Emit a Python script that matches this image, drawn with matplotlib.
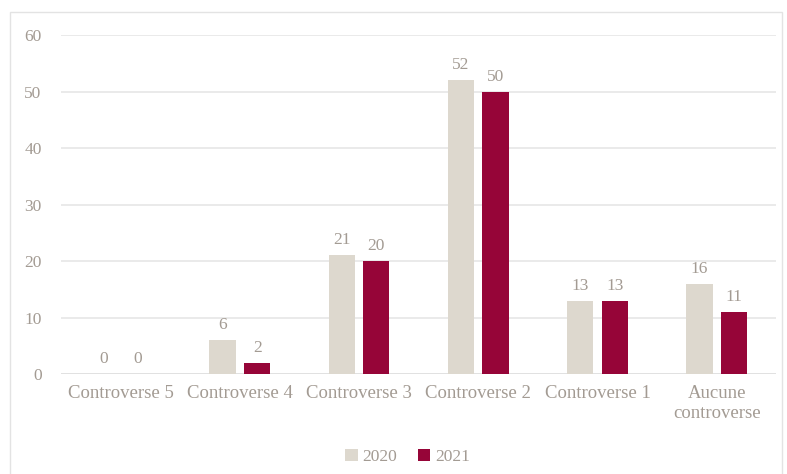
import matplotlib.pyplot as plt
import numpy as np
from matplotlib.patches import Rectangle

categories = ['Controverse 5', 'Controverse 4', 'Controverse 3', 'Controverse 2',
              'Controverse 1', 'Aucune\ncontroverse']
v2020 = [0, 6, 21, 52, 13, 16]
v2021 = [0, 2, 20, 50, 13, 11]

c2020 = '#DDD8CE'
c2021 = '#960538'
txt = '#A39B93'

plt.rcParams['font.family'] = ['Liberation Serif', 'DejaVu Serif']

fig = plt.figure(figsize=(7.87, 4.74), dpi=100)
ax = fig.add_axes([0.0775, 0.211, 0.909, 0.715])

x = np.arange(len(categories))
w = 0.22
off = 0.145
b1 = ax.bar(x - off, v2020, w, color=c2020, label='2020', zorder=3)
b2 = ax.bar(x + off, v2021, w, color=c2021, label='2021', zorder=3)

for bars in (b1, b2):
    for r in bars:
        h = r.get_height()
        ax.annotate(str(int(h)), (r.get_x() + r.get_width() / 2, h),
                    xytext=(0, 5), textcoords='offset points',
                    ha='center', va='bottom', fontsize=12.5, color=txt)

ax.set_xlim(-0.5, len(categories) - 0.5)
ax.set_ylim(0, 60)
ax.set_yticks(range(0, 61, 10))
ax.set_xticks(x)
ax.set_xticklabels(categories, fontsize=13.5, color=txt, linespacing=1.25)
ax.tick_params(axis='y', labelsize=12.5, labelcolor=txt, length=0, pad=14)
ax.tick_params(axis='x', length=0, pad=8)
ax.grid(axis='y', color='#E6E6E6', linewidth=1.2, zorder=0)
for s in ax.spines.values():
    s.set_visible(False)
ax.axhline(0, color='#E0E0E0', linewidth=1.2, zorder=2)

ax.legend(loc='center', bbox_to_anchor=(0.485, -0.245), ncol=2, frameon=False,
          fontsize=12.5, labelcolor=txt, handlelength=0.7, handleheight=0.7,
          handletextpad=0.3, columnspacing=1.2)

fig.patches.append(Rectangle((10 / 787, -0.01), 772 / 787, 1 - 12 / 474 + 0.01,
                             transform=fig.transFigure, fill=False,
                             edgecolor='#E3E3E3', linewidth=1))

fig.savefig('out.png', dpi=100)
